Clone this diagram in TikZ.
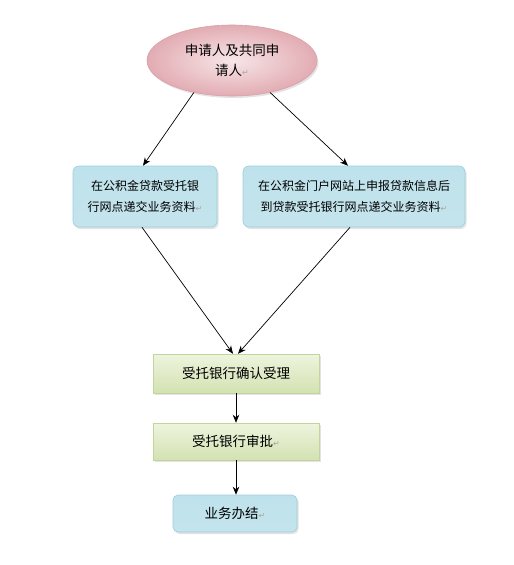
\documentclass[tikz,border=0pt]{standalone}
\usepackage{fontspec}
\setmainfont{Noto Sans CJK SC}
\newfontfamily\symf{DejaVu Sans}
\usetikzlibrary{shapes.geometric,shadows,arrows.meta}
\definecolor{pinkin}{HTML}{F7E6E8}
\definecolor{pinkout}{HTML}{E2ACB3}
\definecolor{pinkdraw}{HTML}{D9A0A7}
\definecolor{bluetop}{HTML}{BEE2EC}
\definecolor{bluemid}{HTML}{E6F4F8}
\definecolor{bluebot}{HTML}{C4E4EC}
\definecolor{bluedraw}{HTML}{9CCFDD}
\definecolor{greentop}{HTML}{EEF4DE}
\definecolor{greenbot}{HTML}{D3E2B2}
\definecolor{greendraw}{HTML}{C2D59C}
\newcommand\pmk{{\symf\fontsize{8}{8}\selectfont\color{black!35}↵}}
\tikzset{
  shad/.style={drop shadow={opacity=0.22,shadow xshift=1.5pt,shadow yshift=-2pt}},
  ovalnode/.style={ellipse,draw=pinkdraw,line width=0.6pt,inner color=pinkin,outer color=pinkout,
     minimum width=170pt,minimum height=71pt,inner sep=0pt,align=center,
     font=\fontsize{13.5}{20}\selectfont,shad},
  bluebox/.style={rectangle,rounded corners=6pt,draw=bluedraw,line width=0.6pt,
     top color=bluetop,middle color=bluemid,bottom color=bluebot,inner sep=0pt,align=center,
     font=\fontsize{12}{21}\selectfont,shad},
  greenbox/.style={rectangle,draw=greendraw,line width=0.5pt,
     top color=greentop,bottom color=greenbot,inner sep=0pt,align=center,
     minimum width=166pt,font=\fontsize{13.5}{16}\selectfont,shad},
  arr/.style={draw=black,line width=0.7pt,-{Stealth[length=8pt,width=6.5pt]}}
}
\begin{document}
\begin{tikzpicture}[x=1pt,y=1pt]
\useasboundingbox (0,0) rectangle (514,-565);
\fill[white] (0,0) rectangle (514,-565);
\node[ovalnode] (top) at (232,-60.5) {申请人及共同申\\请人\pmk};
\node[bluebox,minimum width=144pt,minimum height=61pt] (lb) at (145,-196.5)
  {在公积金贷款受托银\\行网点递交业务资料\pmk};
\node[bluebox,minimum width=222pt,minimum height=61pt] (rb) at (354,-196.5)
  {在公积金门户网站上申报贷款信息后\\到贷款受托银行网点递交业务资料\pmk};
\node[greenbox,minimum height=39pt] (g1) at (236,-373.5) {受托银行确认受理};
\node[greenbox,minimum height=37pt] (g2) at (236,-441.5) {受托银行审批\pmk};
\node[bluebox,rounded corners=5pt,minimum width=124pt,minimum height=37pt,
  font=\fontsize{13.5}{16}\selectfont] (b3) at (235,-513.5) {业务办结\pmk};
\draw[arr] (top.220) -- ([xshift=-2pt]lb.north);
\draw[arr] (top.320) -- ([xshift=-6pt]rb.north);
\draw[arr] ([xshift=-3pt]lb.south) -- ([xshift=-3pt]g1.north);
\draw[arr] ([xshift=-4pt]rb.south) -- ([xshift=2pt]g1.north);
\draw[arr] (g1.south) -- (g2.north);
\draw[arr] (g2.south) -- (g2.south |- b3.north);
\end{tikzpicture}
\end{document}
